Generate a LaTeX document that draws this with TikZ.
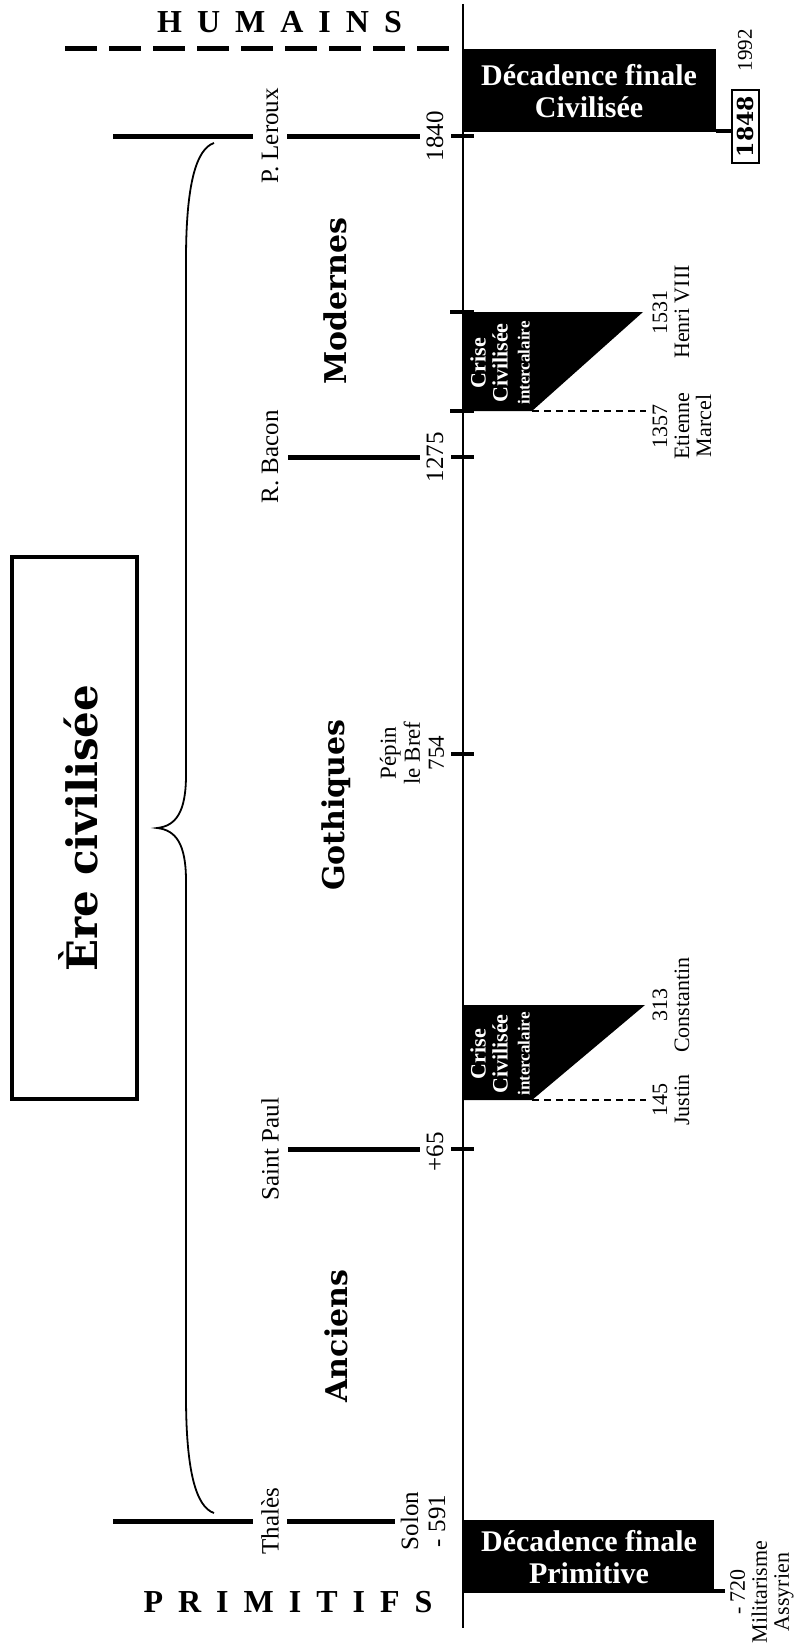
\documentclass[tikz,border=0pt]{standalone}
\usepackage{fontspec}
\setmainfont{Liberation Serif}
\newfontfamily\heavyfont{DejaVu Serif}
\newcommand\lsgap{\hspace{15pt}}
\begin{document}
\begin{tikzpicture}[x=1pt,y=-1pt,
  lbl/.style={rotate=90,inner sep=0pt,align=center,font=\fontsize{25}{27}\selectfont},
  sml/.style={rotate=90,inner sep=0pt,align=center,font=\fontsize{22}{22}\selectfont},
  era/.style={rotate=90,inner sep=0pt,font=\heavyfont\bfseries\fontsize{30}{32}\selectfont},
  person/.style={line width=5pt},
  tick/.style={line width=4pt},
  crise/.style={rotate=90,inner sep=0pt,align=center,text=white,font=\bfseries\fontsize{22}{22}\selectfont},
  deca/.style={inner sep=0pt,align=center,text=white,font=\bfseries\fontsize{30}{32}\selectfont},
  spaced/.style={inner sep=0pt,anchor=base,font=\bfseries\fontsize{32}{34}\selectfont},
  crisedash/.style={line width=1.5pt,dash pattern=on 7pt off 5pt}
]
\useasboundingbox (0,0) rectangle (796,1646);

% main axis
\draw[line width=2.5pt] (463,4) -- (463,1628);

% HUMAINS and dashed line
\node[spaced] (humains) at (279.5,33) {H\lsgap U\lsgap M\lsgap A\lsgap I\lsgap N\lsgap S};
\draw[line width=5pt,dash pattern=on 32pt off 12pt] (65,49) -- (457,49);

% top black box
\fill (463,49) rectangle (716,132);
\node[deca] (decciv) at (589,91) {Décadence finale\\Civilisée};
\draw[line width=4pt] (716,131) -- (732,131);
\node[draw,line width=2pt,rotate=90,minimum width=73pt,minimum height=27pt,inner sep=0pt,
  font=\heavyfont\bfseries\fontsize{22}{24}\selectfont] (y1848) at (745.5,126.5) {1848};
\node[rotate=90,inner sep=0pt,font=\fontsize{21}{22}\selectfont] (y1992) at (745,50) {1992};

% P. Leroux / 1840
\draw[person] (113,136) -- (253,136);
\draw[person] (287,136) -- (420,136);
\draw[tick] (451,136) -- (474,136);
\node[lbl] (leroux) at (270,136) {P. Leroux};
\node[lbl] (y1840) at (435,136) {1840};

% R. Bacon / 1275
\draw[person] (288,457) -- (420,457);
\draw[tick] (451,457) -- (474,457);
\node[lbl] (bacon) at (270,457) {R. Bacon};
\node[lbl] (y1275) at (435,457) {1275};

% Pepin / 754
\draw[tick] (451,754) -- (474,754);
\node[rotate=90,inner sep=0pt,align=center,font=\fontsize{23}{24}\selectfont] (pepin) at (412,753) {Pépin\\le Bref\\754};

% Saint Paul / +65
\draw[person] (288,1149) -- (420,1149);
\draw[tick] (451,1149) -- (474,1149);
\node[lbl] (paul) at (270,1149) {Saint Paul};
\node[lbl] (y65) at (435,1152) {+65};

% Thales / Solon
\draw[person] (113,1521) -- (253,1521);
\draw[person] (287,1521) -- (395,1521);
\node[lbl] (thales) at (270,1521) {Thalès};
\node[lbl] (solon) at (423,1521) {Solon\\- 591};

% bottom black box
\fill (463,1520) rectangle (714,1593);
\node[deca] (decprim) at (589,1557) {Décadence finale\\Primitive};
\draw[line width=4pt] (712,1591) -- (725,1591);
\node[sml] (y720) at (762,1592) {- 720\\Militarisme\\Assyrien};

% upper crisis
\fill (463,312) -- (643,312) -- (532,411) -- (463,411) -- cycle;
\draw[tick] (450,312) -- (474,312);
\draw[tick] (450,411) -- (474,411);
\draw[crisedash] (532,411) -- (646,411);
\node[crise] (crise1) at (500,363) {Crise\\Civilisée\\\fontsize{17}{19}\selectfont intercalaire};
\node[sml] (y1531) at (671,312) {1531\\Henri VIII};
\node[sml] (y1357) at (682,426) {1357\\Etienne\\Marcel};

% lower crisis
\fill (463,1005) -- (645,1005) -- (532,1100) -- (463,1100) -- cycle;
\draw[crisedash] (532,1100) -- (646,1100);
\node[crise] (crise2) at (500,1054) {Crise\\Civilisée\\\fontsize{17}{19}\selectfont intercalaire};
\node[sml] (y313) at (671,1005) {313\\Constantin};
\node[sml] (y145) at (671,1100) {145\\Justin};

% era names
\node[era] (modernes) at (335,301) {Modernes};
\node[era] (gothiques) at (336,805) {Gothiques};
\node[era] (anciens) at (336,1336) {Anciens};

% brace
\draw[line width=1.8pt] (214,143) .. controls (196,149) and (186,185) .. (186,260)
  -- (186,775) .. controls (186,812) and (176,826) .. (157,828)
  .. controls (176,830) and (186,844) .. (186,881)
  -- (186,1396) .. controls (186,1471) and (196,1507) .. (214,1513);

% Ere civilisee box
\draw[line width=4pt] (12,557) rectangle (137,1099);
\node[rotate=90,inner sep=0pt,font=\heavyfont\bfseries\fontsize{42}{44}\selectfont] (ere) at (78,828) {Ère civilisée};

% PRIMITIFS
\node[spaced] (primitifs) at (288,1612) {P\lsgap R\lsgap I\lsgap M\lsgap I\lsgap T\lsgap I\lsgap F\lsgap S};
\end{tikzpicture}
\end{document}
